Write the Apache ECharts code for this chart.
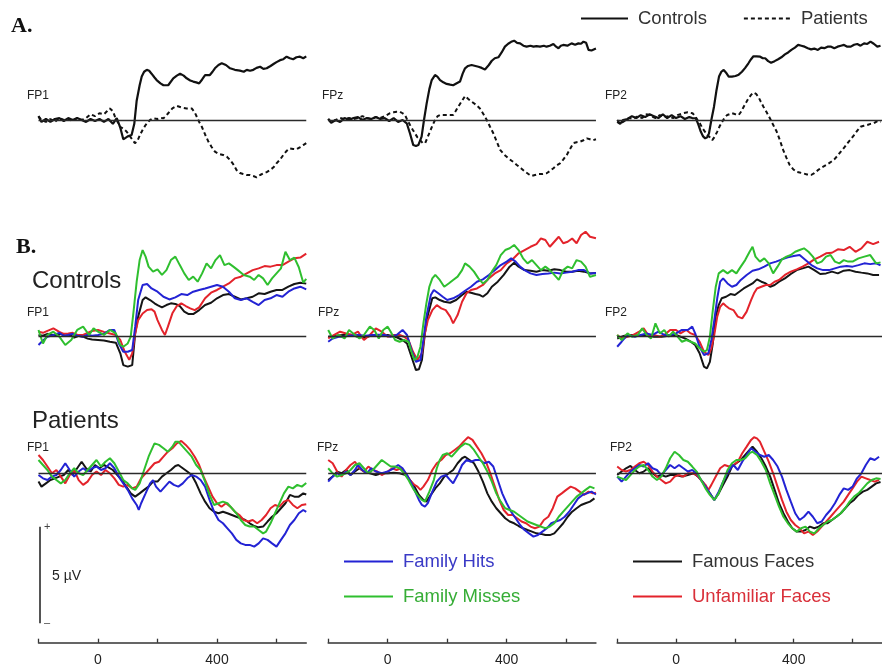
<!DOCTYPE html>
<html>
<head>
<meta charset="utf-8">
<script src="https://cdn.jsdelivr.net/npm/echarts@6/dist/echarts.min.js"></script>
<style>
  html, body { margin: 0; padding: 0; background: #fff; }
  #chart { width: 882px; height: 667px; }
</style>
</head>
<body>
<div id="chart"></div>
<script>
// ---------- labels ----------
const channels = ['FP1', 'FPz', 'FP2'];
const groupNames = ['Controls', 'Patients'];
const conditionNames = ['Family Hits', 'Family Misses', 'Famous Faces', 'Unfamiliar Faces'];
const xTickValues = [-200, 0, 200, 400, 600];
const xLabelValues = [0, 400];
const scaleBarUV = 5;

// ---------- A. grand averages: [ms, µV] ----------
const ctrlFP1 = [[-200,0.2],[-190,-0.1],[-175,0.05],[-160,-0.1],[-145,0.05],[-130,0.1],[-115,-0.05],[-100,0.1],[-85,0],[-70,0.1],[-55,0],[-40,-0.1],[-25,0.05],[-10,-0.05],[5,0.05],[20,-0.1],[35,0.05],[50,-0.2],[63,0.1],[75,-0.4],[85,-1.0],[100,-0.85],[113,-0.78],[122,-0.2],[130,1.0],[140,1.8],[147,2.25],[155,2.5],[164,2.6],[172,2.55],[180,2.4],[190,2.2],[197,2.07],[210,1.9],[220,1.8],[236,1.8],[253,2.16],[265,2.3],[276,2.4],[288,2.3],[298,2.16],[310,2.05],[320,1.99],[330,1.95],[340,1.9],[350,2.1],[360,2.33],[376,2.33],[385,2.5],[393,2.68],[405,2.85],[416,2.94],[430,2.85],[444,2.68],[460,2.6],[477,2.56],[490,2.5],[500,2.6],[511,2.55],[522,2.6],[533,2.7],[545,2.76],[556,2.65],[567,2.68],[580,2.8],[590,2.9],[600,3.0],[612,3.1],[623,3.15],[634,3.28],[645,3.2],[656,3.15],[667,3.25],[679,3.28],[690,3.2],[700,3.3]];
const patFP1 = [[-200,0.2],[-190,0],[-175,-0.1],[-160,0.05],[-145,-0.1],[-130,0.1],[-115,0],[-100,0.05],[-85,-0.05],[-70,0.1],[-55,0],[-40,0.1],[-25,0.3],[-10,0.2],[5,0.35],[20,0.3],[30,0.45],[40,0.6],[50,0.45],[57,0.17],[66,-0.1],[74,-0.35],[85,-0.45],[96,-0.6],[110,-0.9],[124,-1.2],[132,-1.1],[141,-0.78],[152,-0.45],[164,-0.17],[175,0],[186,0.09],[200,0.05],[210,0.1],[220,0.09],[228,0.2],[236,0.35],[250,0.6],[265,0.73],[280,0.65],[298,0.6],[315,0.6],[325,0.4],[332,0.17],[340,-0.1],[349,-0.35],[360,-0.75],[371,-1.12],[382,-1.4],[393,-1.64],[405,-1.75],[421,-1.81],[433,-1.9],[444,-2.07],[455,-2.3],[466,-2.6],[477,-2.75],[488,-2.8],[500,-2.85],[511,-2.85],[522,-2.9],[533,-2.97],[545,-2.85],[556,-2.76],[567,-2.7],[578,-2.6],[590,-2.45],[600,-2.25],[612,-2.05],[623,-1.81],[634,-1.6],[645,-1.47],[656,-1.5],[667,-1.52],[680,-1.4],[690,-1.3],[700,-1.2]];
const ctrlFPz = [[-200,0.05],[-190,-0.15],[-175,0],[-160,-0.1],[-145,0.1],[-130,0],[-115,0.1],[-100,0.15],[-85,0],[-70,0.1],[-55,0.05],[-40,0.15],[-25,0.05],[-10,0.1],[5,-0.05],[20,0.1],[35,-0.1],[50,0],[64,-0.17],[75,-0.7],[86,-1.3],[95,-1.35],[103,-1.3],[114,-0.86],[122,0],[131,0.86],[140,1.6],[148,2.07],[159,2.33],[167,2.25],[176,2.07],[187,1.95],[198,1.87],[210,1.83],[220,1.8],[232,1.9],[243,1.99],[252,2.4],[260,2.68],[270,2.8],[282,2.85],[295,2.8],[305,2.76],[316,2.7],[327,2.62],[340,2.85],[350,3.07],[360,3.2],[372,3.25],[383,3.5],[394,3.8],[405,3.95],[415,4.05],[425,4.11],[435,4.0],[445,3.97],[456,3.85],[467,3.8],[480,3.85],[490,3.8],[500,3.83],[512,3.8],[525,3.85],[534,3.8],[545,3.85],[557,3.94],[566,3.8],[574,3.72],[582,3.85],[590,3.89],[604,3.85],[618,3.97],[630,3.9],[641,3.97],[650,3.95],[658,4.06],[667,4.0],[675,3.63],[685,3.6],[700,3.7]];
const patFPz = [[-200,0.05],[-190,-0.1],[-175,0],[-160,0.1],[-145,0.05],[-130,0.1],[-115,0.05],[-100,0.1],[-85,0.2],[-70,0.1],[-55,0.05],[-40,0.15],[-25,0.1],[-10,0.2],[8,0.35],[20,0.4],[30,0.43],[41,0.43],[50,0.35],[58,0.26],[66,0],[75,-0.26],[84,-0.5],[92,-0.7],[100,-0.9],[109,-1.04],[118,-1.2],[126,-1.2],[134,-0.9],[142,-0.6],[150,-0.3],[159,0],[168,0.2],[176,0.26],[187,0.26],[198,0.26],[210,0.26],[220,0.26],[228,0.45],[237,0.69],[248,0.95],[260,1.24],[270,1.1],[282,0.95],[296,0.8],[310,0.6],[322,0.3],[333,0],[344,-0.35],[355,-0.69],[366,-1.1],[378,-1.55],[392,-1.8],[406,-1.99],[420,-2.15],[434,-2.33],[448,-2.5],[462,-2.68],[473,-2.8],[484,-2.9],[495,-2.85],[506,-2.8],[520,-2.8],[534,-2.76],[545,-2.65],[557,-2.5],[568,-2.35],[579,-2.25],[590,-2.05],[602,-1.81],[613,-1.5],[624,-1.2],[635,-1.15],[647,-1.12],[658,-1.05],[669,-0.95],[680,-1.0],[690,-1.05],[700,-1.0]];
const ctrlFP2 = [[-200,-0.1],[-190,-0.2],[-180,0],[-165,0.05],[-150,0.2],[-135,0.1],[-120,0.25],[-105,0.15],[-90,0.3],[-75,0.2],[-60,0.1],[-45,0.3],[-30,0.1],[-15,0.25],[0,0.1],[15,0.2],[30,0.05],[45,0.15],[55,0.1],[67,0.09],[75,-0.2],[84,-0.6],[92,-0.85],[99,-0.95],[106,-0.9],[112,-0.69],[120,0],[129,0.69],[137,1.5],[146,2.25],[154,2.5],[162,2.6],[170,2.45],[179,2.25],[190,2.25],[202,2.28],[213,2.35],[224,2.5],[235,2.7],[246,2.94],[255,3.15],[263,3.3],[274,3.3],[286,3.28],[295,3.2],[303,3.2],[313,3.05],[323,2.97],[335,3.05],[347,3.15],[358,3.25],[370,3.4],[381,3.5],[392,3.63],[404,3.75],[415,3.89],[426,3.85],[437,3.8],[448,3.72],[459,3.66],[470,3.7],[482,3.63],[493,3.75],[504,3.72],[515,3.8],[527,3.8],[538,3.72],[549,3.8],[560,3.85],[571,3.89],[582,3.8],[594,3.8],[605,3.9],[616,3.94],[627,3.85],[639,3.97],[650,3.94],[661,4.06],[672,3.95],[684,3.8],[695,3.85]];
const patFP2 = [[-200,0],[-190,-0.2],[-175,-0.05],[-160,0.1],[-145,0.05],[-130,0.2],[-115,0.1],[-100,0.3],[-85,0.2],[-70,0.1],[-55,0.25],[-40,0.15],[-25,0.2],[-10,0.1],[5,0.25],[22,0.35],[40,0.4],[56,0.35],[65,0.2],[73,0],[82,-0.2],[90,-0.43],[98,-0.6],[106,-0.78],[115,-0.9],[123,-1.04],[132,-0.85],[140,-0.6],[149,-0.3],[157,-0.09],[166,0.15],[174,0.26],[182,0.3],[190,0.35],[202,0.3],[213,0.26],[222,0.45],[230,0.69],[238,0.9],[246,1.12],[255,1.3],[263,1.42],[272,1.35],[280,1.2],[288,0.95],[297,0.69],[308,0.4],[319,0.09],[330,-0.25],[342,-0.6],[353,-1.05],[364,-1.55],[375,-1.95],[386,-2.33],[398,-2.55],[409,-2.68],[420,-2.72],[431,-2.76],[445,-2.82],[459,-2.85],[470,-2.75],[482,-2.6],[496,-2.45],[510,-2.33],[524,-2.2],[538,-2.04],[549,-1.85],[560,-1.64],[572,-1.42],[583,-1.2],[594,-0.99],[605,-0.78],[616,-0.55],[627,-0.35],[638,-0.3],[650,-0.26],[661,-0.2],[672,-0.17],[685,-0.05],[695,-0.1]];

// ---------- B. Controls, by condition ----------
const cFamousFP1 = [[-200,0.09],[-185,0.05],[-170,0.15],[-155,0.1],[-140,0.05],[-125,0.15],[-110,0.05],[-95,0.1],[-80,-0.05],[-65,0.05],[-50,0],[-35,-0.1],[-20,-0.15],[0,-0.17],[20,-0.2],[40,-0.26],[60,-0.31],[75,-0.86],[85,-1.47],[100,-1.55],[115,-1.47],[125,0.17],[135,1.04],[150,1.9],[160,2.04],[175,1.9],[190,1.73],[200,1.64],[215,1.52],[230,1.64],[245,1.73],[260,1.7],[275,1.59],[290,1.3],[305,1.17],[320,1.17],[340,1.38],[360,1.64],[380,1.76],[400,1.99],[420,2.16],[440,2.21],[460,2.07],[480,1.93],[500,1.99],[520,2.07],[540,2.25],[560,2.21],[580,2.33],[600,2.42],[620,2.42],[640,2.59],[660,2.73],[680,2.8],[700,2.75]];
const cHitsFP1 = [[-200,-0.43],[-185,-0.2],[-170,0],[-150,0.09],[-130,0.2],[-115,0.05],[-100,0.09],[-85,0.15],[-70,0.05],[-50,0],[-35,0.1],[-20,0.05],[0,0.09],[20,0.15],[40,0.35],[55,0.35],[70,-0.35],[85,-0.78],[100,-0.78],[115,-0.69],[125,0.52],[135,1.9],[150,2.68],[165,2.73],[180,2.5],[200,2.33],[220,2.07],[240,1.93],[260,2.04],[280,2.21],[300,2.16],[320,2.33],[340,2.42],[360,2.5],[380,2.59],[400,2.68],[420,2.59],[440,2.33],[460,1.99],[480,1.9],[500,1.99],[520,1.81],[540,1.64],[560,1.9],[580,1.99],[600,2.16],[620,2.07],[640,2.33],[660,2.5],[680,2.59],[700,2.45]];
const cUnfamFP1 = [[-200,0.26],[-185,0.2],[-170,0.3],[-150,0.43],[-130,0.25],[-115,0.15],[-100,0.17],[-85,0.2],[-70,0.1],[-50,0.09],[-35,0.2],[-20,0.3],[0,0.35],[20,0.25],[40,0.17],[60,0.09],[75,-0.17],[90,-0.78],[105,-1.2],[115,-0.86],[125,0.17],[135,0.86],[150,1.2],[165,1.38],[180,1.42],[190,1.3],[200,0.86],[215,0.35],[225,0.09],[235,0.52],[250,1.21],[265,1.59],[280,1.73],[295,1.59],[310,1.47],[325,1.38],[340,1.52],[360,1.99],[380,2.28],[400,2.42],[420,2.59],[440,2.76],[460,3.02],[480,3.11],[500,3.28],[520,3.45],[540,3.54],[560,3.66],[580,3.63],[600,3.71],[620,3.71],[640,3.89],[660,4.06],[680,4.1],[700,4.3]];
const cMissFP1 = [[-200,0.35],[-185,-0.35],[-170,0.09],[-150,0.26],[-130,0],[-110,-0.43],[-90,-0.17],[-70,0.35],[-50,0.52],[-30,0.09],[-15,0.43],[0,0.26],[20,0.09],[40,0.35],[60,0.17],[75,-0.43],[85,-0.52],[100,-0.35],[110,0],[120,1.38],[130,2.85],[140,3.97],[150,4.49],[160,4.15],[170,3.63],[185,3.37],[200,3.49],[215,3.2],[230,3.45],[245,3.97],[260,4.15],[275,3.71],[290,3.28],[305,2.94],[320,3.11],[335,2.85],[350,3.28],[365,3.8],[380,3.54],[395,3.97],[410,4.23],[425,3.71],[440,3.8],[455,3.63],[470,3.45],[490,3.2],[510,3.11],[525,2.94],[540,3.2],[555,3.02],[570,2.68],[585,3.02],[600,3.28],[615,3.54],[630,4.4],[645,3.97],[660,4.1],[675,3.6],[690,2.8],[700,3.0]];

const cFamousFPz = [[-200,0],[-175,0.05],[-150,0.09],[-125,0.1],[-100,0],[-75,-0.05],[-50,0.09],[-25,0.05],[0,0.09],[30,-0.03],[50,-0.17],[65,-0.35],[80,-1.04],[95,-1.73],[105,-1.69],[115,-1.21],[125,0.17],[135,1.12],[150,1.99],[160,2.04],[175,1.9],[190,1.81],[210,1.76],[230,1.9],[250,2.16],[265,2.33],[280,2.28],[295,2.21],[310,2.16],[320,2.07],[335,2.25],[350,2.59],[370,2.85],[390,3.2],[410,3.63],[425,3.83],[440,3.63],[460,3.45],[480,3.42],[500,3.37],[520,3.45],[540,3.42],[560,3.49],[580,3.45],[600,3.37],[620,3.37],[640,3.42],[660,3.37],[680,3.28],[700,3.3]];
const cHitsFPz = [[-200,-0.26],[-185,-0.09],[-165,0],[-150,0],[-130,0.05],[-100,0.09],[-75,0.05],[-50,0.09],[-30,0.1],[-10,0.09],[10,0],[30,0.09],[50,0.35],[65,0.09],[80,-0.69],[95,-1.3],[110,-1.21],[120,-0.17],[130,1.04],[145,2.16],[155,2.42],[170,2.25],[185,2.07],[200,1.9],[220,1.99],[240,2.16],[260,2.38],[280,2.59],[300,2.85],[320,2.97],[340,3.2],[360,3.45],[380,3.71],[400,3.89],[415,4.06],[430,3.89],[445,3.63],[460,3.45],[480,3.28],[500,3.2],[520,3.25],[540,3.28],[560,3.32],[580,3.28],[600,3.32],[620,3.37],[640,3.45],[660,3.45],[680,3.28],[700,3.3]];
const cUnfamFPz = [[-200,-0.09],[-180,0.09],[-160,0.26],[-140,0.17],[-120,0.09],[-100,0.26],[-80,-0.17],[-60,0.09],[-40,0.43],[-20,0.26],[0,0],[20,0.09],[40,0.09],[55,0],[70,-0.17],[85,-0.78],[100,-1.21],[115,-0.86],[125,0.17],[135,0.86],[150,1.38],[165,1.64],[180,1.47],[195,1.38],[210,1.04],[220,0.69],[235,1.12],[250,1.81],[265,2.25],[280,2.42],[300,2.5],[320,2.68],[340,3.02],[360,3.28],[380,3.45],[400,3.8],[420,4.01],[440,4.32],[460,4.49],[480,4.66],[500,4.8],[515,5.09],[530,5.01],[545,4.66],[560,4.92],[575,5.18],[590,4.84],[605,4.92],[620,5.09],[635,4.84],[650,5.27],[665,5.44],[680,5.18],[700,5.1]];
const cMissFPz = [[-200,0.35],[-185,-0.09],[-165,0.09],[-145,-0.09],[-130,0.35],[-110,0.09],[-95,-0.09],[-80,0.09],[-60,0.52],[-45,0.35],[-30,-0.09],[-15,0.35],[0,0.52],[10,0.26],[25,-0.17],[40,-0.26],[55,-0.17],[70,-0.26],[80,-0.78],[90,-1.21],[100,-1.04],[110,-0.52],[120,0.69],[130,1.73],[140,2.59],[150,3.02],[160,3.2],[175,2.94],[190,2.59],[205,2.76],[220,2.94],[235,3.11],[250,3.45],[260,3.8],[275,3.63],[290,3.37],[305,3.02],[320,2.76],[335,2.94],[350,3.37],[365,3.71],[380,4.23],[395,4.49],[410,4.58],[425,4.75],[440,4.49],[455,4.06],[470,3.8],[485,3.97],[500,3.71],[515,3.45],[530,3.63],[545,3.45],[560,3.2],[575,2.94],[590,3.45],[605,3.63],[620,3.54],[635,3.97],[650,3.89],[665,3.63],[680,3.1],[700,3.2]];

const cFamousFP2 = [[-200,-0.09],[-175,0.05],[-150,0.09],[-125,0.05],[-100,0.09],[-75,0],[-50,0],[-25,0.05],[0,0.09],[30,-0.09],[50,-0.26],[65,-0.43],[80,-0.86],[95,-1.55],[105,-1.64],[115,-1.3],[125,-0.35],[135,1.04],[145,1.64],[155,1.99],[170,2.07],[185,2.21],[200,2.16],[215,2.33],[230,2.5],[245,2.63],[260,2.76],[275,2.97],[290,2.85],[305,2.76],[320,2.59],[335,2.68],[350,2.85],[370,3.02],[390,3.25],[410,3.45],[430,3.54],[450,3.63],[470,3.45],[490,3.25],[510,3.28],[530,3.37],[550,3.28],[570,3.42],[590,3.45],[610,3.37],[630,3.32],[650,3.28],[670,3.2],[690,3.2]];
const cHitsFP2 = [[-200,-0.52],[-185,-0.26],[-165,0.09],[-140,0],[-120,0.09],[-100,0.17],[-80,0.09],[-60,0.26],[-40,0.09],[-20,0.09],[0,0.17],[20,0.35],[40,0.35],[55,0.52],[65,0.17],[80,-0.52],[95,-0.95],[110,-0.86],[120,-0.17],[130,0.86],[140,1.99],[150,2.85],[160,3.02],[175,2.76],[190,2.59],[205,2.68],[220,2.94],[240,3.2],[260,3.42],[280,3.49],[300,3.63],[320,3.8],[340,3.89],[360,4.01],[380,4.11],[400,4.18],[420,4.23],[440,3.97],[460,3.71],[480,3.54],[500,3.45],[520,3.45],[540,3.54],[560,3.63],[580,3.66],[600,3.63],[620,3.71],[640,3.8],[660,3.76],[680,3.8],[695,3.7]];
const cUnfamFP2 = [[-200,0.09],[-185,-0.09],[-165,0],[-145,0.09],[-125,0.26],[-110,0.43],[-95,0.09],[-75,0.09],[-55,0],[-40,0.09],[-20,0.35],[0,0.35],[15,0.17],[35,0.35],[50,0.17],[65,0.09],[80,-0.26],[95,-0.78],[110,-0.95],[120,-0.6],[130,0.09],[140,1.04],[150,1.55],[160,1.73],[170,1.59],[180,1.47],[195,1.38],[210,1.04],[225,0.95],[240,1.3],[255,1.9],[265,2.25],[275,2.5],[290,2.59],[305,2.68],[320,2.68],[335,2.85],[350,2.94],[370,3.2],[390,3.37],[410,3.49],[430,3.63],[450,3.8],[470,4.01],[490,4.15],[510,4.32],[530,4.35],[550,4.53],[570,4.49],[590,4.66],[610,4.4],[630,4.58],[650,4.92],[670,4.8],[690,4.92]];
const cMissFP2 = [[-200,0.09],[-185,-0.17],[-165,0.17],[-150,0],[-130,0.09],[-115,0.43],[-100,0.09],[-85,-0.09],[-70,0.69],[-55,0.17],[-40,0.35],[-25,0],[-10,0.26],[5,0],[20,-0.26],[35,-0.17],[50,-0.26],[65,-0.35],[80,-0.6],[95,-0.78],[105,-0.69],[115,0],[125,1.38],[135,2.59],[145,3.28],[160,3.45],[175,3.28],[190,3.45],[205,3.28],[220,3.63],[235,3.97],[250,4.4],[260,4.66],[270,4.15],[285,3.89],[300,4.06],[315,3.8],[330,3.28],[345,3.63],[360,4.01],[375,4.15],[390,4.23],[405,4.4],[420,4.49],[435,4.58],[450,4.4],[465,4.15],[480,3.8],[495,3.89],[510,4.15],[525,4.23],[540,3.89],[555,3.8],[570,3.97],[585,3.89],[600,3.89],[620,4.06],[640,4.15],[660,4.23],[680,3.8],[695,3.85]];

// ---------- B. Patients, by condition ----------
const pFamousFP1 = [[-200,-0.43],[-190,-0.69],[-175,-0.52],[-160,-0.35],[-145,-0.26],[-130,-0.17],[-115,-0.09],[-100,0.17],[-85,-0.09],[-70,0.26],[-55,0.6],[-40,0.26],[-25,0.09],[-10,0.43],[5,0.26],[20,0.43],[35,0.31],[50,0.17],[65,-0.09],[80,-0.35],[95,-0.69],[110,-1.04],[125,-1.21],[140,-1.04],[155,-0.86],[170,-0.69],[185,-0.43],[200,-0.43],[215,-0.17],[230,0],[245,0.17],[260,0.38],[270,0.43],[285,0.26],[300,0.09],[315,-0.09],[330,-0.52],[345,-1.04],[360,-1.47],[375,-1.81],[390,-1.99],[405,-2.07],[420,-1.99],[435,-2.07],[450,-2.16],[465,-2.25],[480,-2.33],[495,-2.42],[510,-2.59],[525,-2.73],[540,-2.8],[555,-2.76],[570,-2.5],[585,-2.25],[600,-2.07],[615,-1.81],[630,-1.55],[645,-1.12],[660,-1.21],[675,-1.21],[690,-1.04],[700,-1.1]];
const pHitsFP1 = [[-200,-0.09],[-185,-0.26],[-170,-0.35],[-155,-0.17],[-140,-0.09],[-125,0.17],[-110,0.52],[-95,0.17],[-80,-0.17],[-65,0.09],[-50,0.26],[-35,0.09],[-20,0.26],[-5,0.35],[10,0.17],[25,0.26],[40,0.52],[55,0.26],[70,-0.17],[85,-0.52],[100,-0.86],[115,-1.3],[130,-1.64],[137,-1.9],[145,-1.55],[160,-1.04],[175,-0.52],[185,-0.35],[195,-0.69],[210,-0.95],[225,-0.69],[240,-0.43],[255,-0.6],[270,-0.69],[285,-0.52],[300,-0.26],[315,-0.09],[330,-0.17],[345,-0.35],[360,-0.69],[375,-1.38],[390,-1.99],[405,-2.42],[420,-2.59],[435,-2.85],[450,-3.11],[465,-3.45],[480,-3.63],[495,-3.71],[510,-3.71],[525,-3.8],[540,-3.63],[555,-3.37],[570,-3.45],[585,-3.63],[600,-3.8],[615,-3.45],[630,-3.11],[645,-2.68],[660,-2.42],[675,-2.07],[690,-1.9],[700,-2.0]];
const pUnfamFP1 = [[-200,0.95],[-185,0.69],[-170,0.35],[-155,0],[-140,0.17],[-125,-0.17],[-110,-0.52],[-95,-0.09],[-80,0.17],[-65,-0.35],[-50,-0.6],[-35,-0.43],[-20,-0.09],[-5,0.09],[10,-0.09],[25,0.17],[40,0],[55,-0.26],[70,-0.6],[85,-0.69],[100,-0.6],[115,-0.78],[130,-0.69],[145,-0.26],[160,0],[175,0.26],[190,0.52],[205,0.6],[220,0.86],[235,1.12],[250,1.3],[265,1.55],[280,1.68],[295,1.47],[310,1.21],[325,0.86],[340,0.43],[355,-0.17],[370,-0.69],[385,-1.21],[400,-1.55],[415,-1.73],[430,-1.55],[445,-1.73],[460,-1.99],[475,-2.16],[490,-2.42],[505,-2.5],[520,-2.42],[535,-2.59],[550,-2.42],[565,-2.16],[580,-1.81],[595,-1.64],[610,-1.73],[625,-1.47],[640,-1.38],[655,-1.64],[670,-1.81],[685,-1.64],[700,-1.6]];
const pMissFP1 = [[-200,0.69],[-185,0.43],[-170,0.17],[-155,-0.17],[-140,-0.35],[-125,-0.52],[-110,-0.35],[-95,0],[-80,0.26],[-65,0],[-50,-0.09],[-35,0.17],[-20,0.43],[-5,0.69],[10,0.35],[25,0.6],[40,0.78],[55,0.52],[70,0.09],[85,-0.35],[100,-0.52],[115,-0.78],[125,-0.86],[140,-0.52],[155,0.17],[170,0.86],[180,1.21],[190,1.55],[205,1.47],[220,1.3],[235,1.12],[250,1.38],[260,1.64],[270,1.64],[285,1.38],[300,1.12],[315,0.86],[330,0.43],[345,0.17],[360,-0.43],[375,-1.12],[390,-1.64],[405,-1.55],[420,-1.47],[435,-1.55],[450,-1.81],[465,-2.07],[480,-2.42],[495,-2.68],[510,-2.76],[525,-2.76],[540,-2.94],[555,-3.11],[565,-3.02],[580,-2.59],[595,-2.07],[610,-1.55],[625,-1.04],[640,-0.69],[655,-0.78],[670,-0.6],[685,-0.69],[700,-0.5]];

const pFamousFPz = [[-200,-0.35],[-185,-0.17],[-170,0.09],[-155,0],[-140,0.17],[-125,-0.09],[-110,0.09],[-95,0.26],[-80,0.09],[-60,0],[-40,-0.09],[-20,0],[0,0],[20,0.03],[40,0],[60,-0.09],[75,-0.35],[90,-0.69],[105,-1.12],[120,-1.38],[130,-1.47],[145,-1.12],[160,-0.78],[175,-0.52],[190,-0.17],[205,0],[220,0.17],[235,0.52],[250,0.78],[260,0.86],[275,0.69],[290,0.52],[305,0.09],[320,-0.43],[335,-1.04],[350,-1.47],[365,-1.81],[380,-2.07],[395,-2.33],[410,-2.5],[425,-2.59],[440,-2.73],[455,-2.85],[470,-2.94],[485,-3.02],[500,-3.11],[515,-3.14],[530,-3.2],[545,-3.2],[560,-3.11],[575,-2.85],[590,-2.59],[605,-2.25],[620,-1.99],[635,-1.81],[650,-1.64],[665,-1.55],[680,-1.47],[695,-1.3]];
const pHitsFPz = [[-200,-0.43],[-185,-0.17],[-170,0],[-155,-0.09],[-140,0.09],[-125,-0.09],[-110,0.17],[-100,0.43],[-85,0.17],[-70,0],[-55,0.26],[-40,0.09],[-20,0],[0,0.09],[20,0.26],[35,0.43],[50,0.26],[65,-0.09],[80,-0.52],[95,-1.04],[105,-1.38],[115,-1.64],[125,-1.73],[135,-1.55],[150,-0.95],[165,-0.43],[180,-0.17],[195,-0.09],[210,-0.35],[220,-0.52],[235,-0.09],[250,0.43],[265,0.69],[280,0.6],[295,0.69],[310,0.69],[325,0.52],[340,0.6],[355,0.35],[370,-0.35],[385,-1.04],[400,-1.55],[415,-1.99],[430,-2.33],[445,-2.68],[460,-2.94],[475,-3.11],[490,-3.28],[505,-3.2],[520,-3.02],[535,-2.85],[550,-2.59],[565,-2.5],[580,-2.42],[595,-2.25],[610,-1.99],[625,-1.64],[640,-1.3],[655,-1.12],[670,-1.04],[685,-0.95],[700,-1.1]];
const pUnfamFPz = [[-200,0.69],[-185,0.52],[-170,0.09],[-155,-0.17],[-140,0.17],[-125,0.43],[-110,0.6],[-95,0.26],[-80,0.09],[-65,0.35],[-50,0.17],[-35,0.09],[-20,-0.09],[0,0.09],[15,0.26],[30,0.17],[45,0.26],[60,0],[75,-0.35],[90,-0.6],[100,-0.69],[110,-0.86],[120,-0.69],[135,-0.35],[150,0.17],[165,0.52],[180,0.69],[195,0.95],[210,1.04],[225,1.21],[240,1.38],[255,1.64],[270,1.87],[285,1.73],[300,1.38],[315,1.04],[330,0.6],[345,0],[360,-0.69],[375,-1.38],[390,-1.9],[405,-2.16],[420,-2.16],[435,-2.33],[450,-2.5],[465,-2.59],[480,-2.76],[495,-2.85],[510,-2.76],[525,-2.42],[540,-2.25],[555,-1.81],[570,-1.21],[585,-1.04],[600,-0.86],[615,-0.69],[630,-0.78],[645,-0.95],[660,-1.12],[675,-0.95],[690,-1.04],[700,-1.0]];
const pMissFPz = [[-200,0.26],[-185,0],[-170,-0.17],[-155,-0.09],[-140,0],[-125,0.17],[-110,0.43],[-95,0.52],[-80,0.26],[-65,0],[-50,0.17],[-35,0.43],[-20,0.69],[-5,0.52],[10,0.35],[25,0.35],[40,0.26],[55,0],[70,-0.35],[85,-0.78],[100,-1.12],[115,-1.38],[125,-1.47],[140,-0.95],[155,-0.35],[165,0.26],[175,0.69],[185,0.95],[200,1.04],[215,0.86],[230,1.12],[245,1.38],[260,1.55],[275,1.47],[290,1.21],[305,0.86],[320,0.52],[335,0.09],[350,-0.43],[365,-1.04],[380,-1.47],[395,-1.81],[410,-1.9],[425,-1.99],[440,-2.16],[455,-2.33],[470,-2.5],[485,-2.59],[500,-2.68],[515,-2.76],[530,-2.85],[545,-2.76],[560,-2.59],[575,-2.25],[590,-1.99],[605,-1.73],[620,-1.47],[635,-1.21],[650,-1.04],[665,-0.86],[680,-0.69],[695,-0.78]];

const pFamousFP2 = [[-200,-0.09],[-185,0.09],[-170,0.26],[-155,0.38],[-140,0.17],[-125,0],[-110,0.09],[-95,0.26],[-80,0],[-65,-0.17],[-50,-0.09],[-35,-0.17],[-20,-0.09],[0,-0.09],[20,-0.17],[40,-0.09],[60,0],[75,-0.17],[90,-0.43],[100,-0.69],[115,-1.04],[130,-1.38],[145,-1.04],[160,-0.6],[175,-0.17],[190,0.35],[205,0.52],[220,0.69],[235,0.95],[250,1.21],[260,1.38],[275,1.12],[290,0.78],[305,0.35],[320,-0.17],[335,-0.86],[350,-1.55],[365,-2.07],[380,-2.5],[395,-2.85],[410,-3.02],[425,-3.02],[440,-2.94],[455,-2.76],[470,-2.85],[485,-2.76],[500,-2.59],[515,-2.59],[530,-2.42],[545,-2.25],[560,-2.07],[575,-1.81],[590,-1.55],[605,-1.38],[620,-1.12],[635,-0.95],[650,-0.86],[665,-0.69],[680,-0.52],[695,-0.45]];
const pHitsFP2 = [[-200,-0.17],[-185,-0.43],[-170,-0.17],[-155,0.09],[-140,0.26],[-125,0.43],[-110,0.35],[-95,0.52],[-80,0.26],[-65,0.17],[-50,-0.09],[-35,0.17],[-20,0.43],[-5,0.26],[10,0.43],[25,0.26],[40,0.09],[55,0.17],[70,0],[85,-0.35],[100,-0.69],[115,-1.04],[130,-1.38],[145,-0.95],[160,-0.43],[175,0],[185,0.26],[195,0.43],[210,0.17],[225,0.6],[240,0.95],[255,1.3],[270,1.12],[285,0.95],[300,0.86],[315,0.95],[330,0.69],[345,0.35],[360,-0.17],[375,-0.86],[390,-1.47],[405,-2.07],[420,-2.42],[435,-2.25],[450,-1.99],[465,-2.25],[480,-2.59],[495,-2.5],[510,-2.16],[525,-1.9],[540,-1.55],[555,-1.12],[570,-0.78],[585,-0.86],[600,-0.69],[615,-0.26],[630,0],[645,0.43],[660,0.78],[675,0.69],[690,0.86]];
const pUnfamFP2 = [[-200,0.35],[-185,0.17],[-170,0.09],[-155,0.17],[-140,0.35],[-125,0.52],[-110,0.6],[-95,0.43],[-80,0.09],[-65,-0.17],[-50,-0.35],[-35,-0.52],[-20,-0.43],[-5,-0.17],[10,-0.09],[25,-0.17],[40,0],[55,0],[70,-0.09],[85,-0.35],[100,-0.6],[110,-0.86],[120,-0.6],[135,-0.17],[150,0.26],[165,0.43],[180,0.35],[195,0.43],[210,0.6],[225,1.04],[240,1.38],[255,1.73],[265,1.87],[275,1.81],[285,1.64],[300,1.12],[315,0.6],[330,0],[345,-0.69],[360,-1.38],[375,-1.99],[390,-2.42],[405,-2.68],[420,-2.85],[435,-3.11],[450,-3.02],[465,-3.2],[480,-3.02],[495,-2.76],[510,-2.5],[525,-2.25],[540,-1.99],[555,-1.73],[570,-1.47],[585,-1.12],[600,-0.78],[615,-0.43],[630,-0.17],[645,-0.26],[660,-0.35],[675,-0.43],[690,-0.35]];
const pMissFP2 = [[-200,-0.17],[-185,-0.26],[-170,-0.35],[-155,-0.09],[-140,0.17],[-125,0.35],[-110,0.43],[-95,0.17],[-80,-0.17],[-65,-0.35],[-50,-0.17],[-35,0.26],[-20,0.78],[-5,1.12],[10,0.95],[25,0.69],[40,0.6],[55,0.35],[70,0.09],[85,-0.35],[100,-0.78],[115,-1.12],[130,-1.38],[145,-1.04],[160,-0.43],[175,0.17],[190,0.52],[205,0.69],[220,0.69],[235,0.78],[250,1.04],[260,1.12],[275,0.95],[290,0.6],[305,0.17],[320,-0.52],[335,-1.12],[350,-1.73],[365,-2.25],[380,-2.59],[395,-2.85],[410,-3.02],[425,-2.85],[440,-2.76],[455,-3.02],[470,-3.11],[485,-2.85],[500,-2.68],[515,-2.5],[530,-2.42],[545,-2.25],[560,-2.07],[575,-1.81],[590,-1.47],[605,-1.21],[620,-1.04],[635,-0.78],[650,-0.52],[665,-0.35],[680,-0.26],[695,-0.3]];

// ---------- layout ----------
const FONT = '"Liberation Sans", Arial, sans-serif';
const PX_PER_UV = 19.3;            // vertical scale shared by every panel
const PX_PER_MS = 0.2975;          // horizontal scale shared by every panel
const T_MIN = -200, T_MAX = 700;
const colLeft = [38.5, 328.2, 617.2];
const rowLayout = [
  { base: 120.0, min: -4, max: 4.5 },   // A
  { base: 336.7, min: -3, max: 6 },     // B controls
  { base: 473.3, min: -5, max: 3 }      // B patients
];
const AXIS_Y = 642.7;

const COLORS = {
  hits: '#2323d4', miss: '#2fbf2f', famous: '#151515', unfam: '#e3232b', grand: '#111'
};

// panel data in drawing order per row
const rowA = [
  [ctrlFP1, patFP1], [ctrlFPz, patFPz], [ctrlFP2, patFP2]
];
const rowCtrl = [
  [cFamousFP1, cUnfamFP1, cHitsFP1, cMissFP1],
  [cFamousFPz, cUnfamFPz, cHitsFPz, cMissFPz],
  [cFamousFP2, cUnfamFP2, cHitsFP2, cMissFP2]
];
const rowPat = [
  [pFamousFP1, pUnfamFP1, pHitsFP1, pMissFP1],
  [pFamousFPz, pUnfamFPz, pHitsFPz, pMissFPz],
  [pFamousFP2, pUnfamFP2, pHitsFP2, pMissFP2]
];
const condOrder = [
  { name: conditionNames[2], color: COLORS.famous },
  { name: conditionNames[3], color: COLORS.unfam },
  { name: conditionNames[0], color: COLORS.hits },
  { name: conditionNames[1], color: COLORS.miss }
];

const grids = [], xAxes = [], yAxes = [], series = [];

function addPanel(r, c) {
  const L = rowLayout[r];
  const idx = grids.length;
  grids.push({
    left: colLeft[c],
    top: L.base - L.max * PX_PER_UV,
    width: (T_MAX - T_MIN) * PX_PER_MS,
    height: (L.max - L.min) * PX_PER_UV,
    containLabel: false
  });
  const bottomRow = r === 2;
  const gridBottom = L.base - L.min * PX_PER_UV;
  xAxes.push({
    gridIndex: idx, type: 'value', min: T_MIN, max: T_MAX,
    show: bottomRow,
    position: 'bottom',
    offset: bottomRow ? AXIS_Y - gridBottom : 0,
    axisLine: { show: true, onZero: false, lineStyle: { color: '#333', width: 1.5 } },
    axisTick: { show: true, inside: true, length: 4, customValues: xTickValues,
                lineStyle: { color: '#333', width: 1.3 } },
    axisLabel: { show: true, customValues: xLabelValues, margin: 10,
                 fontFamily: FONT, fontSize: 14, color: '#222' },
    splitLine: { show: false }
  });
  yAxes.push({
    gridIndex: idx, type: 'value', min: L.min, max: L.max, show: false,
    splitLine: { show: false }
  });
  return idx;
}

const baseline = {
  silent: true, symbol: ['none', 'none'], animation: false,
  label: { show: false },
  lineStyle: { color: '#2a2a2a', width: 1.4, type: 'solid' },
  data: [{ yAxis: 0 }]
};

for (let c = 0; c < 3; c++) {
  const g = addPanel(0, c);
  series.push({
    type: 'line', name: groupNames[1], data: rowA[c][1], xAxisIndex: g, yAxisIndex: g,
    symbol: 'none', animation: false,
    lineStyle: { color: COLORS.grand, width: 2, type: [4, 3] },
    itemStyle: { color: COLORS.grand },
    markLine: baseline
  });
  series.push({
    type: 'line', name: groupNames[0], data: rowA[c][0], xAxisIndex: g, yAxisIndex: g,
    symbol: 'none', animation: false,
    lineStyle: { color: COLORS.grand, width: 2.2 },
    itemStyle: { color: COLORS.grand }
  });
}
[[1, rowCtrl], [2, rowPat]].forEach(([r, rowData]) => {
  for (let c = 0; c < 3; c++) {
    const g = addPanel(r, c);
    rowData[c].forEach((d, k) => {
      const s = {
        type: 'line', name: condOrder[k].name, data: d, xAxisIndex: g, yAxisIndex: g,
        symbol: 'none', animation: false,
        lineStyle: { color: condOrder[k].color, width: 2 },
        itemStyle: { color: condOrder[k].color }
      };
      if (k === 0) s.markLine = baseline;
      series.push(s);
    });
  }
});

// ---------- text and scale bar ----------
function txt(x, y, text, size, opts) {
  return {
    type: 'text', x, y, silent: true,
    style: Object.assign({ text, font: size + 'px ' + FONT, fill: '#222', verticalAlign: 'middle' }, opts || {})
  };
}
const graphics = [
  txt(11, 26, 'A.', 22, { font: 'bold 22px "Liberation Serif", "Times New Roman", serif', fill: '#111' }),
  txt(16, 247, 'B.', 22, { font: 'bold 22px "Liberation Serif", "Times New Roman", serif', fill: '#111' }),
  txt(32, 281, groupNames[0], 24),
  txt(32, 421, groupNames[1], 24),
  txt(27, 96, channels[0], 12), txt(322, 96, channels[1], 12), txt(605, 96, channels[2], 12),
  txt(27, 312.5, channels[0], 12), txt(318, 312.5, channels[1], 12), txt(605, 312.5, channels[2], 12),
  txt(27, 448, channels[0], 12), txt(317, 448, channels[1], 12), txt(610, 448, channels[2], 12)
];
const barTop = 526.7, barLen = scaleBarUV * PX_PER_UV;
graphics.push({
  type: 'line', silent: true,
  shape: { x1: 40, y1: barTop, x2: 40, y2: barTop + barLen },
  style: { stroke: '#555', lineWidth: 2 }
});
graphics.push(txt(44, barTop, '+', 11, { fill: '#444' }));
graphics.push(txt(44, barTop + barLen, '\u2013', 11, { fill: '#444' }));
graphics.push(txt(52, barTop + barLen / 2 + 1, scaleBarUV + ' \u00b5V', 14));

// ---------- legends (line keys only, no point markers) ----------
const legendText = { fontFamily: FONT, fontSize: 18.5, color: '#333', padding: [0, 0, 0, 5] };
const legendCommon = {
  padding: 0, selectedMode: false,
  itemStyle: { opacity: 0, borderWidth: 0 },
  textStyle: legendText
};
const legends = [
  Object.assign({
    data: [groupNames[0], groupNames[1]], left: 580, top: 9, orient: 'horizontal',
    itemWidth: 47, itemHeight: 18, itemGap: 36
  }, legendCommon),
  Object.assign({
    data: [
      { name: conditionNames[0], textStyle: { color: '#3a3ac6' } },
      { name: conditionNames[1], textStyle: { color: '#36ad36' } }
    ],
    left: 343, top: 552, orient: 'vertical',
    itemWidth: 49, itemHeight: 19, itemGap: 16
  }, legendCommon),
  Object.assign({
    data: [
      { name: conditionNames[2], textStyle: { color: '#333' } },
      { name: conditionNames[3], textStyle: { color: '#d9303a' } }
    ],
    left: 632, top: 552, orient: 'vertical',
    itemWidth: 49, itemHeight: 19, itemGap: 16
  }, legendCommon)
];

const chart = echarts.init(document.getElementById('chart'), null, { renderer: 'canvas' });
chart.setOption({
  backgroundColor: '#fff',
  animation: false,
  grid: grids,
  xAxis: xAxes,
  yAxis: yAxes,
  legend: legends,
  series: series,
  graphic: graphics
});
</script>
</body>
</html>
